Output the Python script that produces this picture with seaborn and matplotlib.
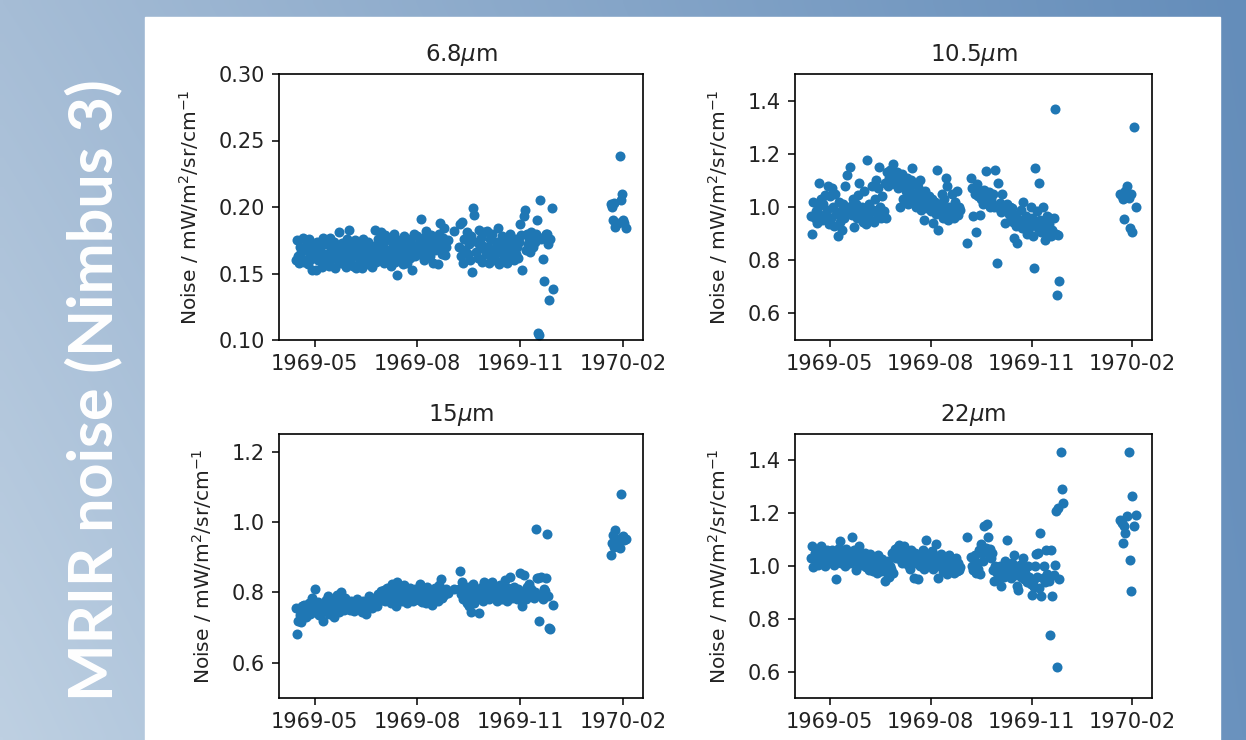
import numpy as np
import pandas as pd
import seaborn as sns
import matplotlib.pyplot as plt
import matplotlib.dates as mdates
from matplotlib.patches import Rectangle

# observation days, counted from the Nimbus 3 launch on 1969-04-14
launch = pd.Timestamp('1969-04-14')
obs_days = (list(range(0, 137))            # 14 Apr - 28 Aug 1969
            + [142]                         # 3 Sep
            + list(range(146, 231))         # 7 Sep - 30 Nov
            + [282, 283, 284, 285, 286, 288, 290, 291, 292, 293, 294, 296])  # Jan/Feb 1970

# MRIR noise per channel, mW/m2/sr/cm-1 (None = no data)
noise_68 = [
    # Apr
    0.160, 0.175, 0.163, 0.158, 0.170, 0.166, 0.161, 0.177, 0.159, 0.168, 0.172, 0.157, 0.176, 0.164, 0.161, 0.153, 0.170,
    # May
    0.166, 0.153, 0.174, 0.160, 0.168, 0.162, 0.171, 0.155, 0.177, 0.165,
    0.159, 0.172, 0.163, 0.156, 0.177, 0.168, 0.161, 0.174, 0.154, 0.166,
    0.170, 0.160, 0.181, 0.167, 0.158, 0.173, 0.162, 0.169, 0.155, 0.176, 0.164,
    # Jun
    0.183, 0.160, 0.171, 0.156, 0.168, 0.175, 0.154, 0.163, 0.172, 0.158,
    0.167, 0.154, 0.176, 0.162, 0.170, 0.157, 0.165, 0.174, 0.160, 0.168,
    0.155, 0.171, 0.164, 0.183, 0.159, 0.169, 0.176, 0.162, 0.181, 0.166,
    # Jul
    0.172, 0.158, 0.179, 0.165, 0.160, 0.177, 0.168, 0.156, 0.174, 0.163,
    0.180, 0.159, 0.170, 0.149, 0.166, 0.175, 0.161, 0.171, 0.157, 0.178,
    0.164, 0.169, 0.158, 0.176, 0.162, 0.173, 0.153, 0.167, 0.180, 0.163, 0.171,
    # Aug
    0.178, 0.165, 0.174, 0.191, 0.169, 0.177, 0.160, 0.172, 0.182, 0.166,
    0.175, 0.163, 0.179, 0.170, 0.158, 0.176, 0.168, 0.173, 0.157, 0.180,
    0.188, 0.171, 0.165, 0.177, 0.184, 0.164, 0.170, 0.175,
    # 3 Sep
    0.182,
    # Sep
    0.170, 0.187, 0.163, 0.189, 0.158, 0.176, 0.168, 0.181, 0.165, 0.172,
    0.160, 0.178, 0.151, 0.199, 0.194, 0.166, 0.174, 0.162, 0.183, 0.169,
    0.177, 0.159, 0.171, 0.181,
    # Oct
    0.165, 0.182, 0.170, 0.158, 0.176, 0.163, 0.180, 0.168, 0.160, 0.174,
    0.166, 0.184, 0.157, 0.172, 0.166, 0.178, 0.161, 0.169, 0.175, 0.158,
    0.171, 0.164, 0.180, 0.167, 0.173, 0.160, 0.176, 0.165, 0.170, 0.162, 0.174,
    # Nov
    0.187, 0.179, 0.153, 0.193, 0.198, 0.168, 0.180, 0.172, 0.176, 0.166, 0.181, 0.170, 0.178, 0.174, 0.180,
    0.190, 0.105, 0.104, 0.205, 0.176, 0.161, 0.144, 0.178, 0.180, 0.180, 0.172, 0.130, 0.176, 0.199, 0.138,
    # 1970
    0.202, 0.200, 0.190, 0.203, 0.185, 0.188, 0.238, 0.205, 0.210, 0.190, 0.188, 0.184,
]

noise_105 = [
    # Apr
    0.965, 0.900, 1.020, 0.960, 0.985, 0.940, 1.000, 1.090, 0.970, 1.030, 0.950, 1.010, 0.965, 1.045, 0.990, 1.080, 0.935,
    # May
    1.040, 0.960, 1.070, 1.000, 0.930, 1.050, 0.975, 0.890, 1.020, 0.945,
    0.985, 0.915, 1.010, 0.960, 1.080, 0.995, 1.120, 0.980, 1.150, 1.005,
    0.970, 1.030, 0.925, 0.990, 1.010, 0.960, 1.045, 1.090, 0.975, 1.000, 0.945,
    # Jun
    1.060, 0.990, 0.935, 1.175, 0.965, 1.010, 0.950, 1.080, 0.990, 0.945,
    1.030, 1.100, 0.975, 1.070, 1.150, 1.000, 0.960, 1.040, 0.985, 1.090,
    0.960, 1.130, 1.080, 1.110, 1.140, 1.090, 1.120, 1.160, 1.085, 1.105,
    # Jul
    1.130, 1.070, 1.110, 1.000, 1.090, 1.125, 1.030, 1.080, 1.060, 1.110,
    1.010, 1.070, 1.040, 1.100, 1.145, 1.020, 1.085, 1.050, 1.000, 1.075,
    1.030, 1.100, 0.990, 1.045, 1.010, 0.950, 1.060, 1.025, 0.995, 1.040, 1.010,
    # Aug
    0.985, 1.030, 0.940, 1.000, 1.020, 0.975, 1.140, 0.915, 1.010, 0.980,
    1.050, 0.960, 1.030, 0.995, 1.110, 1.080, 0.950, 1.000, 0.975, 1.050,
    0.990, 0.960, 1.020, 0.985, 1.060, 0.970, 1.000, 0.990,
    # 3 Sep
    0.865,
    # Sep
    1.110, 1.070, 0.965, 1.050, 0.905, 1.085, 1.040, 1.060, 0.970, 1.030,
    1.045, 1.010, 1.065, 1.135, 1.040, 1.020, 1.055, 1.000, 1.030, 1.010,
    1.050, 1.000, 1.140, 0.790,
    # Oct
    1.090, 0.995, 1.015, 0.980, 1.050, 0.990, 1.005, 0.940, 0.985, 1.010,
    0.975, 1.000, 0.960, 0.995, 0.945, 0.885, 0.970, 0.930, 0.865, 0.955,
    0.940, 0.990, 0.920, 1.020, 0.950, 0.930, 0.965, 0.900, 0.945, 0.920, 1.000,
    # Nov
    0.960, 0.890, 0.770, 1.145, 0.935, 0.985, 0.920, 1.090, 0.950, 0.905,
    1.000, 0.940, 0.877, 0.925, 0.965, 0.900, 0.935, 0.960, 0.890, 0.915,
    0.960, 1.370, 0.900, 0.670, 0.895, 0.720, None, None, None, None,
    # 1970
    1.050, 1.040, 1.030, 0.955, 1.060, 1.080, 1.035, 0.920, 1.050, 0.905, 1.300, 1.000,
]

noise_15 = [
    # Apr
    0.755, 0.683, 0.720, 0.754, 0.735, 0.716, 0.760, 0.742, 0.765, 0.730, 0.750, 0.745, 0.770, 0.738, 0.756, 0.785, 0.748,
    # May
    0.810, 0.760, 0.742, 0.772, 0.735, 0.755, 0.768, 0.745, 0.720, 0.760,
    0.778, 0.750, 0.790, 0.738, 0.765, 0.748, 0.782, 0.730, 0.760, 0.775,
    0.792, 0.755, 0.745, 0.770, 0.800, 0.762, 0.750, 0.785, 0.765, 0.756, 0.772,
    # Jun
    0.760, 0.750, 0.775, 0.765, 0.748, 0.770, 0.757, 0.780, 0.752, 0.768,
    0.762, 0.745, 0.775, 0.758, 0.766, 0.740, 0.772, 0.760, 0.790, 0.768,
    0.755, 0.778, 0.765, 0.785, 0.770, 0.760, 0.795, 0.775, 0.805, 0.782,
    # Jul
    0.790, 0.808, 0.775, 0.795, 0.812, 0.785, 0.800, 0.770, 0.825, 0.792,
    0.815, 0.780, 0.760, 0.830, 0.798, 0.785, 0.810, 0.775, 0.795, 0.820,
    0.780, 0.802, 0.770, 0.790, 0.812, 0.785, 0.800, 0.775, 0.795, 0.810, 0.783,
    # Aug
    0.800, 0.778, 0.825, 0.790, 0.772, 0.808, 0.785, 0.795, 0.770, 0.815,
    0.792, 0.780, 0.805, 0.765, 0.798, 0.786, 0.812, 0.790, 0.775, 0.820,
    0.795, 0.838, 0.785, 0.805, 0.792, 0.800, 0.810, 0.798,
    # 3 Sep
    0.810,
    # Sep
    0.810, 0.862, 0.795, 0.830, 0.780, 0.805, 0.790, 0.770, 0.815, 0.760,
    0.800, 0.745, 0.785, 0.825, 0.770, 0.795, 0.780, 0.810, 0.742, 0.800,
    0.790, 0.815, 0.775, 0.830,
    # Oct
    0.805, 0.790, 0.825, 0.780, 0.810, 0.795, 0.830, 0.800, 0.785, 0.815,
    0.775, 0.805, 0.790, 0.820, 0.798, 0.780, 0.810, 0.835, 0.795, 0.775,
    0.812, 0.790, 0.845, 0.800, 0.785, 0.815, 0.795, 0.805, 0.780, 0.810, 0.798,
    # Nov
    0.855, 0.790, 0.760, 0.850, 0.805, 0.780, 0.815, 0.795, 0.825, 0.790, 0.810, 0.800, 0.785,
    0.800, 0.980, 0.842, 0.840, 0.720, 0.790, 0.845, 0.780, 0.810, 0.805, 0.840, 0.965, 0.790, 0.700, 0.695, None, 0.765,
    # 1970
    0.905, 0.940, 0.962, 0.930, 0.978, 0.948, 0.925, 1.080, 0.956, 0.960, 0.950, 0.952,
]

noise_22 = [
    # Apr
    1.030, 1.075, 0.995, 1.050, 1.025, 1.040, 1.005, 1.060, 1.030, 1.075, 1.015, 1.045, 1.035, 1.000, 1.060, 1.025, 1.050,
    # May
    1.040, 1.015, 1.060, 1.030, 1.005, 1.050, 0.952, 1.025, 1.070, 1.095,
    1.010, 1.040, 1.030, 1.055, 1.000, 1.065, 1.025, 1.045, 1.010, 1.040,
    1.110, 1.020, 1.060, 1.035, 0.985, 1.050, 1.015, 1.075, 1.030, 1.005, 1.045,
    # Jun
    1.020, 1.050, 0.995, 1.035, 1.010, 0.985, 1.045, 1.005, 0.980, 1.030,
    1.000, 1.015, 0.975, 1.040, 0.990, 1.010, 0.980, 1.025, 0.995, 0.945,
    1.005, 0.975, 1.020, 0.960, 1.000, 0.990, 1.050, 0.975, 1.065, 1.030,
    # Jul
    1.070, 1.040, 1.080, 1.025, 1.060, 1.010, 1.045, 1.075, 1.030, 1.050,
    1.005, 1.040, 0.990, 1.060, 1.020, 1.035, 0.955, 1.050, 1.010, 0.950,
    1.030, 1.000, 1.045, 1.015, 1.060, 0.990, 1.025, 1.100, 1.040, 1.005, 1.030,
    # Aug
    1.020, 1.055, 0.990, 1.040, 1.010, 1.085, 1.030, 0.955, 1.000, 1.045,
    1.015, 0.980, 1.035, 0.995, 1.025, 0.970, 1.010, 1.040, 0.985, 1.000,
    1.020, 0.975, 0.995, 1.030, 0.980, 1.010, 0.985, 0.995,
    # 3 Sep
    1.110,
    # Sep
    1.035, 1.000, 0.985, 1.040, 0.975, 1.010, 0.990, 1.060, 0.970, 1.085,
    1.050, 1.020, 1.150, 1.070, 1.160, 1.110, 1.045, 1.065, 1.030, 1.050,
    0.985, 0.945, 1.000, 0.975,
    # Oct
    0.990, 0.960, 1.000, 0.925, 0.975, 0.995, 0.960, 1.020, 0.985, 1.100,
    0.970, 1.000, 0.955, 1.010, 0.980, 1.040, 0.965, 0.990, 0.925, 0.910,
    1.005, 0.960, 0.985, 1.030, 0.950, 0.975, 0.995, 0.940, 1.000, 0.960, 0.930,
    # Nov
    0.890, 0.945, 0.920, 1.000, 1.045, 0.960, 1.050, 0.915, 1.125, 0.885, 0.955, 1.000, 0.940, 1.060,
    0.970, 0.950, 0.945, 0.740, 1.060, 0.885, 0.965, 1.005, 1.210, 0.618, 1.220, 0.950, None, 1.430, 1.290, 1.240,
    # 1970
    1.175, 1.163, 1.087, 1.150, 1.125, 1.188, 1.430, 1.024, 0.905, 1.266, 1.150, 1.194,
]

channels = ['6.8', '10.5', '15', '22']
series = [noise_68, noise_105, noise_15, noise_22]

dates = launch + pd.to_timedelta(obs_days, unit='D')
df = pd.DataFrame({'date': dates})
for ch, vals in zip(channels, series):
    assert len(vals) == len(obs_days), (ch, len(vals))
    df[ch] = pd.Series(vals, dtype='float64')

fig = plt.figure(figsize=(12.46, 7.40), dpi=100)

# slide background: blue gradient with a white panel for the plots
bg = fig.add_axes([0, 0, 1, 1])
tl = np.array([166, 189, 214]) / 255
tr = np.array([100, 141, 186]) / 255
bl = np.array([190, 208, 226]) / 255
br = np.array([106, 146, 190]) / 255
u = np.linspace(0, 1, 200)[None, :, None]
v = np.linspace(0, 1, 120)[:, None, None]
grad = (1 - v) * ((1 - u) * tl + u * tr) + v * ((1 - u) * bl + u * br)
bg.imshow(grad, extent=[0, 1, 0, 1], aspect='auto', interpolation='bilinear')
bg.add_patch(Rectangle((145 / 1246, 0), 1075 / 1246, 723 / 740, color='white'))
bg.set_xlim(0, 1)
bg.set_ylim(0, 1)
bg.axis('off')

fig.text(0.075, 0.473, 'MRIR noise (Nimbus 3)', rotation=90, ha='center', va='center',
         color='white', fontsize=44, fontweight='bold', family=['Lato', 'DejaVu Sans'])

positions = [
    [279 / 1246, 400 / 740, 364 / 1246, 266 / 740],
    [795 / 1246, 400 / 740, 357 / 1246, 266 / 740],
    [279 / 1246, 42 / 740, 364 / 1246, 264 / 740],
    [795 / 1246, 42 / 740, 357 / 1246, 264 / 740],
]
ylims = [(0.10, 0.30), (0.5, 1.5), (0.5, 1.25), (0.5, 1.5)]
yticks = [[0.10, 0.15, 0.20, 0.25, 0.30], [0.6, 0.8, 1.0, 1.2, 1.4],
          [0.6, 0.8, 1.0, 1.2], [0.6, 0.8, 1.0, 1.2, 1.4]]

for ch, pos, ylim, yt in zip(channels, positions, ylims, yticks):
    ax = fig.add_axes(pos)
    sns.scatterplot(data=df, x='date', y=ch, ax=ax, s=52, color='#1f77b4',
                    linewidth=0, alpha=1)
    ax.set_ylim(*ylim)
    ax.set_yticks(yt)
    ax.yaxis.set_major_formatter(plt.FormatStrFormatter('%.2f' if ch == '6.8' else '%.1f'))
    ax.xaxis.set_major_locator(mdates.MonthLocator(bymonth=[2, 5, 8, 11]))
    ax.xaxis.set_major_formatter(mdates.DateFormatter('%Y-%m'))
    ax.set_title(ch + r'$\mu$m', fontsize=16.5, pad=9, color='#222222')
    ax.set_xlabel('')
    ax.set_ylabel(r'Noise / mW/m$^2$/sr/cm$^{-1}$', fontsize=14.5, color='#222222',
                  labelpad=13)
    ax.tick_params(labelsize=15, length=5, width=1.1, pad=5, labelcolor='#222222')
    for sp in ax.spines.values():
        sp.set_linewidth(1.2)

fig.savefig('out.png', dpi=100)
